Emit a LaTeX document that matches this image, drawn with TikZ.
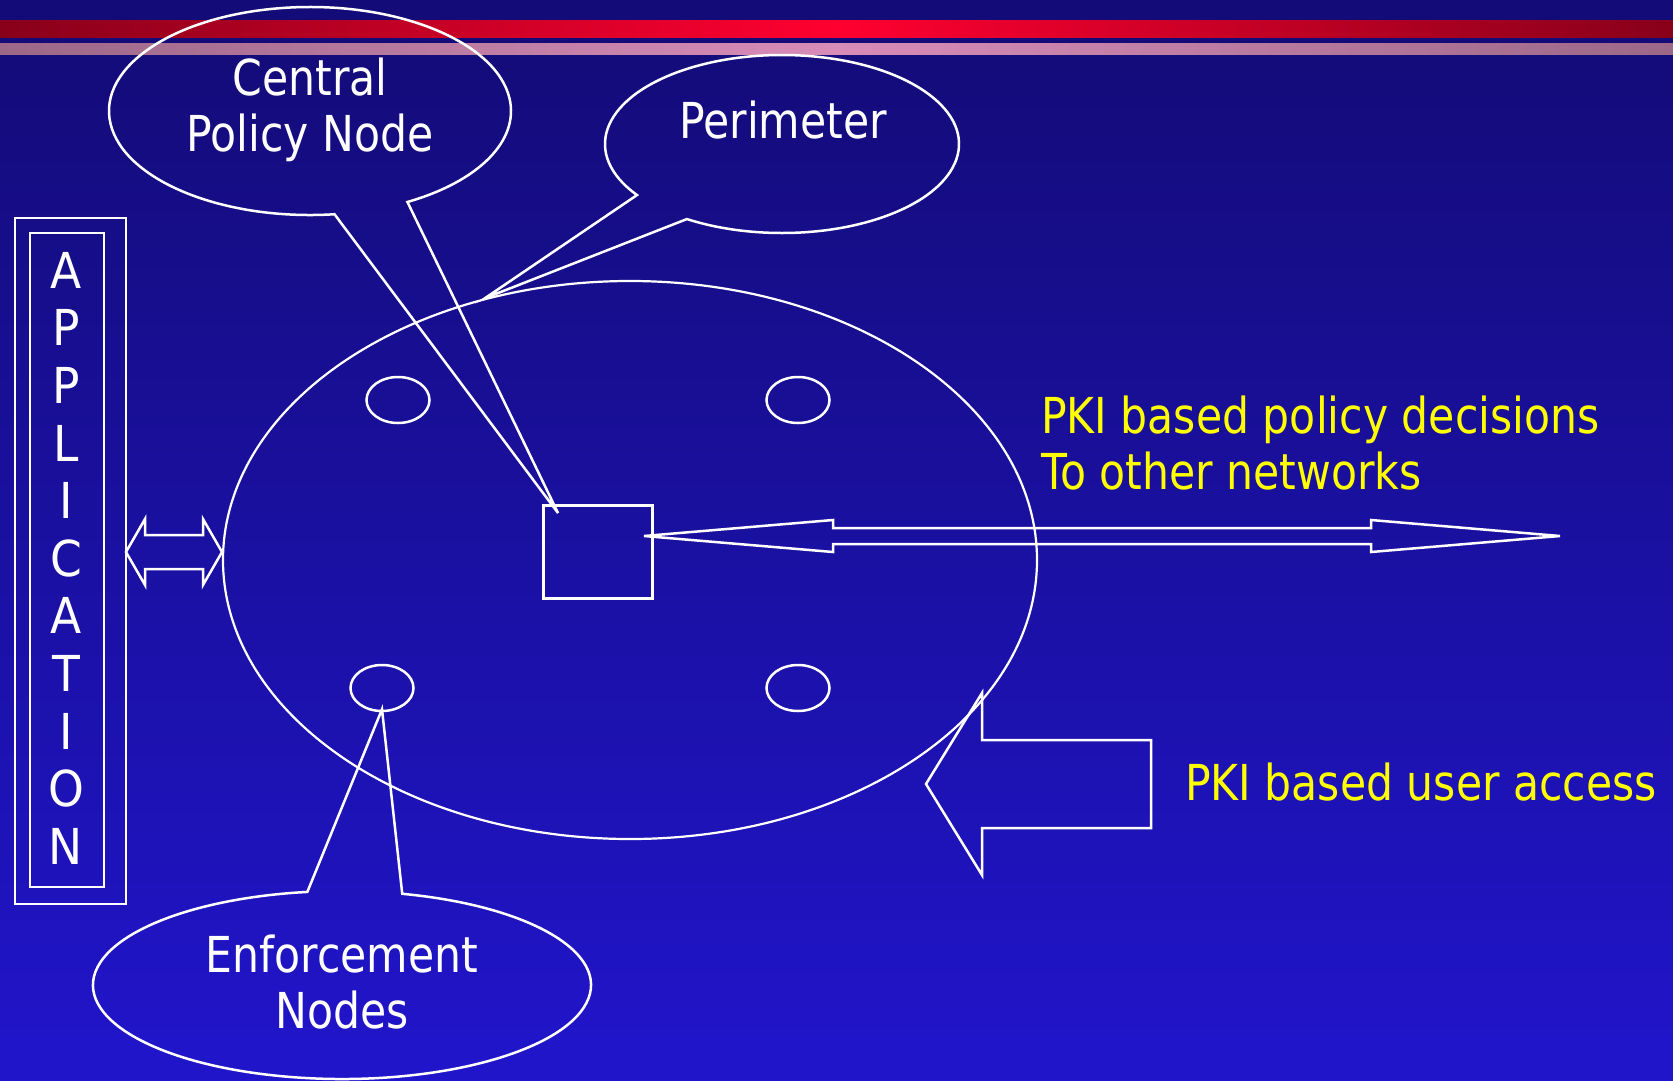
\documentclass[tikz,border=0pt]{standalone}
\usepackage{fontspec}
\setmainfont{DejaVu Sans}[FakeStretch=0.86]
\newfontfamily\appfont{DejaVu Sans}[FakeStretch=0.92]
\usepackage{tikz}
\usetikzlibrary{shapes.geometric,calc,positioning}
\definecolor{slidetop}{HTML}{130B76}
\definecolor{slidemid}{HTML}{1A10AE}
\definecolor{slidebot}{HTML}{2115CB}
\definecolor{stripedark}{HTML}{88001A}
\definecolor{stripebright}{HTML}{FF0030}
\definecolor{pinkdark}{HTML}{9C6888}
\definecolor{pinkbright}{HTML}{D88CB8}
\definecolor{pkiyellow}{HTML}{FFFF00}
\newcommand{\labelsize}{\fontsize{49.5}{56}\selectfont}

\begin{document}
\begin{tikzpicture}[x=1pt,y=-1pt,
    outline/.style={white, line width=2.5pt, line join=miter},
    calltext/.style={text=white, font=\labelsize, inner sep=0pt, align=center},
    pkitext/.style={text=pkiyellow, font=\labelsize, inner sep=0pt, align=left},
    enfnode/.style={draw=white, line width=2.5pt, ellipse, inner sep=0pt,
        minimum width=63pt, minimum height=46pt}]
        % Background and title stripes
        \useasboundingbox (0,0) rectangle (1673,1080);
        \shade[top color=slidetop, middle color=slidemid, bottom color=slidebot] (0,0) rectangle (1673,1080);
        \shade[left color=stripedark, right color=stripedark, middle color=stripebright] (0,20) rectangle (1673,37);
        \shade[left color=pinkdark, right color=pinkdark, middle color=pinkbright] (0,43) rectangle (1673,54);
        % Application column
        \node[draw=white, line width=2.5pt, minimum width=111pt, minimum height=686pt, inner sep=0pt] (appout) at (70.5,561) {};
        \node[draw=white, line width=2.5pt, minimum width=74pt, minimum height=654pt, inner sep=0pt] (appin) at (67,560) {};
        \node[text=white, inner sep=0pt, align=center, anchor=north,
            font=\appfont\fontsize{49.5}{57.6}\selectfont] (applabel) at (66,252)
            {A\\P\\P\\L\\I\\C\\A\\T\\I\\O\\N};
        % Perimeter, policy box and enforcement nodes
        \node[draw=white, line width=2.2pt, ellipse, inner sep=0pt,
            minimum width=814pt, minimum height=558pt] (perim) at (630,560) {};
        \node[draw=white, line width=3pt, inner sep=0pt,
            minimum width=109pt, minimum height=93pt] (cpbox) at (598,552) {};
        \node[enfnode] (e1) at (398,400) {};
        \node[enfnode] (e2) at (798,400) {};
        \node[enfnode] (e3) at (382,688) {};
        \node[enfnode] (e4) at (798,688) {};
        % Block arrow between application and perimeter
        \coordinate (appL) at (126,552);
        \coordinate (appR) at (222,552);
        \draw[outline] (appL) -- ++(19,-33) -- ++(0,16) -- ++(58,0) -- ++(0,-16) -- (appR)
            -- ++(-19,33) -- ++(0,-16) -- ++(-58,0) -- ++(0,16) -- cycle;
        % Block arrow to other networks
        \coordinate (netL) at ($(cpbox.east)+(-10,-16)$);
        \coordinate (netR) at (1560,536);
        \draw[outline] (netL) -- ++(189,-16) -- ++(0,8) -- ++(538,0) -- ++(0,-8) -- (netR)
            -- ++(-189,16) -- ++(0,-8) -- ++(-538,0) -- ++(0,8) -- cycle;
        \node[pkitext, anchor=north west] (pkipolicy) at (1041,396)
            {PKI based policy decisions\\To other networks};
        % Block arrow for user access
        \coordinate (userTip) at (926,784);
        \draw[outline] (userTip) -- ++(56,-91) -- ++(0,47) -- ++(169,0) -- ++(0,88)
            -- ++(-169,0) -- ++(0,47) -- cycle;
        \node[pkitext, anchor=north west] (pkiuser) at (1185,763) {PKI based user access};
        % Callout: central policy node
        \coordinate (cpn) at (310,111);
        \coordinate (cptip) at ($(cpbox.north west)+(16,9)$);
        \draw[outline] ($(cpn)+(83:201 and 104)$) arc[start angle=83, end angle=421, x radius=201, y radius=104]
            -- (cptip) -- cycle;
        \node[calltext, anchor=north] (cpnlabel) at (310,58) {Central\\Policy Node};
        % Callout: perimeter
        \coordinate (prm) at (782,144);
        \draw[outline] ($(prm)+(145:177 and 89)$) arc[start angle=145, end angle=482.5, x radius=177, y radius=89]
            -- (perim.119) -- cycle;
        \node[calltext, anchor=north] (prmlabel) at (783,101) {Perimeter};
        % Callout: enforcement nodes
        \coordinate (enf) at (342,985);
        \coordinate (enftip) at ($(e3.south)+(0,-3)$);
        \draw[outline] ($(enf)+(284:249 and 94)$) arc[start angle=284, end angle=622, x radius=249, y radius=94]
            -- (enftip) -- cycle;
        \node[calltext, anchor=north] (enflabel) at (342,935) {Enforcement\\Nodes};
      \end{tikzpicture}
\end{document}
